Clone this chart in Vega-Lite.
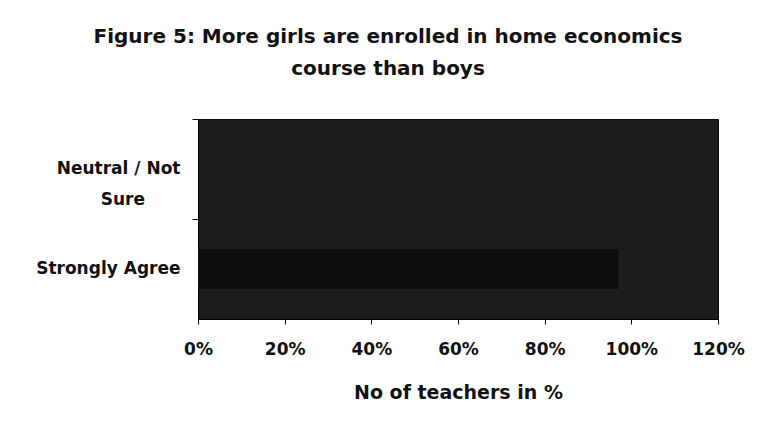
{
  "$schema": "https://vega.github.io/schema/vega-lite/v6.json",
  "autosize": {"type": "none"},
  "width": 520,
  "height": 200,
  "padding": {"left": 198, "top": 119, "right": 46, "bottom": 120},
  "background": "#ffffff",
  "title": {
    "text": ["Figure 5: More girls are enrolled in home economics", "course than boys"],
    "font": "DejaVu Sans",
    "fontSize": 20,
    "fontWeight": "bold",
    "color": "#111111",
    "lineHeight": 32,
    "anchor": "middle",
    "dx": -70,
    "offset": 40
  },
  "data": {
    "values": [
      {"response": "Neutral / Not Sure", "pct": 0},
      {"response": "Strongly Agree", "pct": 0.97}
    ]
  },
  "mark": {"type": "bar", "color": "#0c0e0c"},
  "encoding": {
    "y": {
      "field": "response",
      "type": "nominal",
      "sort": ["Neutral / Not Sure", "Strongly Agree"],
      "scale": {"paddingInner": 0.6, "paddingOuter": 0.3},
      "axis": {
        "title": null,
        "bandPosition": -0.75,
        "tickSize": 6,
        "tickColor": "#000000",
        "domainColor": "#000000",
        "labelPadding": 12,
        "labelFont": "DejaVu Sans",
        "labelFontSize": 17,
        "labelFontWeight": "bold",
        "labelColor": "#111111",
        "labelLineHeight": 31,
        "labelAlign": "right",
        "labelExpr": "datum.value == 'Neutral / Not Sure' ? ['Neutral / Not', 'Sure\u00a0\u00a0\u00a0\u00a0\u00a0\u00a0\u200b'] : datum.value",
        "encoding": {
          "labels": {
            "dy": {"signal": "datum.value == 'Neutral / Not Sure' ? -17 : -1"}
          }
        }
      }
    },
    "x": {
      "field": "pct",
      "type": "quantitative",
      "scale": {"domain": [0, 1.2], "nice": false},
      "axis": {
        "title": "No of teachers in %",
        "values": [0, 0.2, 0.4, 0.6, 0.8, 1.0, 1.2],
        "format": ".0%",
        "grid": false,
        "labelFlush": false,
        "tickSize": 5,
        "tickColor": "#000000",
        "domainColor": "#000000",
        "labelPadding": 17,
        "labelFont": "DejaVu Sans",
        "labelFontSize": 17,
        "labelFontWeight": "bold",
        "labelColor": "#111111",
        "titleFont": "DejaVu Sans",
        "titleFontSize": 19,
        "titleFontWeight": "bold",
        "titleColor": "#111111",
        "titlePadding": 26
      }
    }
  },
  "config": {
    "view": {"fill": "#1b1e1b", "stroke": "#0a0a0a", "strokeWidth": 1}
  }
}
